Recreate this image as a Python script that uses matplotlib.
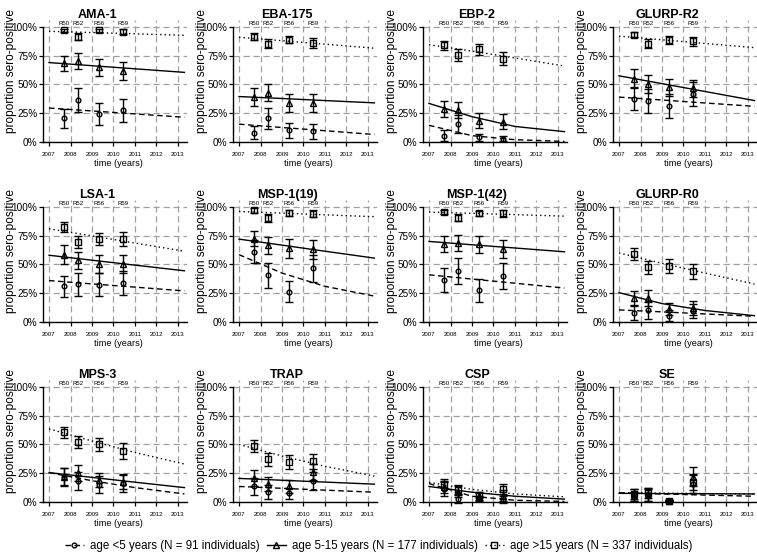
import numpy as np
import matplotlib
matplotlib.use("Agg")
import matplotlib.pyplot as plt
from matplotlib.lines import Line2D

plt.rcParams['font.family'] = ['Liberation Sans', 'DejaVu Sans']

antigens = ['AMA-1', 'EBA-175', 'EBP-2', 'GLURP-R2',
            'LSA-1', 'MSP-1(19)', 'MSP-1(42)', 'GLURP-R0',
            'MPS-3', 'TRAP', 'CSP', 'SE']
survey_times = [2007.68, 2008.33, 2009.33, 2010.44]
survey_names = ['R50', 'R52', 'R56', 'R59']
years = [2007, 2008, 2009, 2010, 2011, 2012, 2013]

# observed sero-prevalence (%) and half width of the error bar, per antigen
young_prop = [[20.5, 36.5, 24.5, 27.5], [8, 20.5, 10, 9.5], [5.5, 15.5, 4, 3], [37.5, 35.5, 31.5, 41.5],
              [31, 33, 32.5, 34], [61, 40.5, 26.5, 46.5], [36.5, 44.5, 27.5, 40], [8, 10, 5.5, 9.5],
              [21.5, 18, 15, 16.5], [13.5, 9, 7.5, 18], [11.5, 3, 3, 2], [6, 6.5, 1, 15.5]]
young_err = [[8, 10, 9.5, 10], [5.5, 9, 6.5, 6.5], [5, 8, 3, 2.5], [10, 10.5, 10.5, 10.5],
             [9, 10, 10, 10.5], [10, 11, 9, 12], [10, 11.5, 10, 11], [6, 7, 4.5, 6],
             [8, 8, 7.5, 8], [7, 6, 5, 8], [6, 4, 2.5, 3], [5, 5.5, 0.5, 8]]
mid_prop = [[68.5, 70, 65, 61.5], [39, 43, 34, 34], [28.5, 27.5, 18.5, 17.5], [55, 50.5, 47.5, 46.5],
            [58.5, 53.5, 50.5, 50.5], [72.5, 66.5, 64, 63], [68, 68.5, 67.5, 63.5], [21, 20.5, 11.5, 12.5],
            [22, 25.5, 19, 17.5], [20.5, 15.5, 13.5, 26], [13, 9, 5, 5.5], [5, 6, 1, 22]]
mid_err = [[6.5, 7, 7.5, 8], [7.5, 7, 8, 8], [7, 7, 6.5, 6.5], [8, 7.5, 7.5, 7],
           [8, 7.5, 8, 8], [6.5, 7, 8, 8.5], [7, 7, 7.5, 8], [6, 7, 5, 6],
           [7.5, 7, 6, 6], [7, 6, 6, 7], [5, 5, 3, 5], [4, 5, 0.5, 8]]
old_prop = [[97, 91.5, 97, 96], [91.3, 85.5, 89, 86], [84, 75.5, 80.5, 72.5], [93.3, 85.5, 89, 87.5],
            [82.5, 69.5, 72, 72], [97, 90.5, 94.5, 94], [95.5, 90.5, 94.5, 94.5], [59, 47.5, 48.5, 44],
            [60.5, 52, 50, 44.5], [48.5, 37, 35, 35.5], [16, 10.5, 6, 11.5], [7, 8, 1, 17]]
old_err = [[1.5, 3, 1.5, 2], [3, 4, 3, 4], [4, 5, 4.5, 6], [2.5, 4, 3.5, 4],
           [4, 5, 5, 6], [2, 3.5, 2.5, 3], [2, 3, 2, 3], [5, 5.5, 6, 6.5],
           [5, 5.5, 6, 7], [5, 5.5, 6, 6.5], [4, 4, 2.5, 4.5], [4, 4.5, 0.5, 7]]

# fitted curves (%) read at these times
fit_x = [2007, 2009, 2011, 2013.3]
young_fit = [[29.5, 27.0, 24.4, 21.5], [15.5, 12.6, 9.8, 6.5], [14.5, 5.5, 2, 0.5], [39, 36.5, 33.9, 31],
             [36, 33.1, 30.3, 27], [58.5, 42.5, 31, 22.5], [41, 37.3, 33.7, 29.5], [10.5, 8.8, 7, 5],
             [25.5, 18.5, 12.5, 7], [13.5, 11.9, 10.3, 8.5], [16, 5, 1.5, 0.5], [8, 7, 6, 5]]
mid_fit = [[69, 66.3, 63.6, 60.5], [39.5, 37.8, 36, 34], [33.5, 22, 13.5, 9], [57.5, 50.7, 43.9, 36],
           [58, 53.7, 49.4, 44.5], [72, 66.8, 61.5, 55.5], [70, 67.1, 64.3, 61], [25.5, 16, 10, 5.5],
           [25.5, 21.4, 17.2, 12.5], [20.5, 18.9, 17.3, 15.5], [13.5, 8.5, 5, 2.5], [7.5, 7.3, 7.2, 7]]
old_fit = [[96.2, 95.1, 94.0, 92.7], [91, 88, 85, 81.5], [84.5, 79, 73, 66], [92, 88.8, 85.6, 82],
           [81, 74.8, 68.6, 61.5], [96, 94.6, 93.1, 91.5], [95.5, 94.4, 93.3, 92], [60, 51, 42.5, 33],
           [63.5, 53, 43, 33], [50, 40, 31, 22.5], [17, 11, 7, 4.5], [8, 7.7, 7.3, 7]]

groups = [
    ('age <5 years (N = 91 individuals)', young_prop, young_err, young_fit, 'o', 3.4, (0, (4, 2.5))),
    ('age 5-15 years (N = 177 individuals)', mid_prop, mid_err, mid_fit, '^', 4.4, '-'),
    ('age >15 years (N = 337 individuals)', old_prop, old_err, old_fit, 's', 3.8, (0, (1, 2.2))),
]

W, H = 757, 556
fig = plt.figure(figsize=(W / 100, H / 100), dpi=100)

for i, name in enumerate(antigens):
    r, c = divmod(i, 4)
    x0 = c * 190
    y0 = r * 180
    ax = fig.add_axes([(x0 + 43) / W, 1 - (y0 + 142) / H, 144 / W, 122 / H])
    ax.set_xlim(2006.72, 2013.42)
    ax.set_ylim(0, 1.06)
    ax.set_axisbelow(True)
    ax.grid(True, color='#a0a0a0', linestyle=(0, (5, 3)), linewidth=0.9)
    for s in ['top', 'right']:
        ax.spines[s].set_visible(False)
    ax.spines['left'].set_bounds(0, 1)
    ax.spines['left'].set_linewidth(1.0)
    ax.spines['bottom'].set_linewidth(1.0)
    ax.set_xticks(years)
    ax.set_xticklabels([str(y) for y in years])
    ax.set_yticks([0, 0.25, 0.5, 0.75, 1.0])
    ax.set_yticklabels(['0%', '25%', '50%', '75%', '100%'])
    ax.tick_params(axis='x', length=3, width=0.9, labelsize=4.4, pad=4)
    ax.tick_params(axis='y', length=3, width=0.9, labelsize=7.2, pad=1)

    for lab, prop, err, fit, mk, ms, ls in groups:
        ax.plot(fit_x, np.array(fit[i]) / 100, color='black', linestyle=ls, linewidth=1.0)
        ax.errorbar(survey_times, np.array(prop[i]) / 100, yerr=np.array(err[i]) / 100,
                    fmt=mk, ms=ms, mfc='none', mec='black', mew=1.0, ecolor='black',
                    elinewidth=1.0, capsize=3.0, capthick=1.0, clip_on=False)

    for t, sn in zip(survey_times, survey_names):
        ax.text(t, 1.033, sn, ha='center', va='center', fontsize=4.4)

    fig.text((x0 + 97) / W, 1 - (y0 + 15) / H, name, ha='center', va='center',
             fontsize=9, fontweight='bold')
    fig.text((x0 + 11.5) / W, 1 - (y0 + 71) / H, 'proportion sero-positive', ha='center',
             va='center', rotation=90, fontsize=8.6)
    fig.text((x0 + 118) / W, 1 - (y0 + 164) / H, 'time (years)', ha='center', va='center',
             fontsize=6.6)

handles = []
for lab, prop, err, fit, mk, ms, ls in groups:
    handles.append(Line2D([], [], color='black', linestyle=ls, linewidth=1.0, marker=mk,
                          ms=ms, mfc='none', mec='black', mew=1.0, label=lab))
fig.legend(handles=handles, loc='center', bbox_to_anchor=(0.5, 1 - 546 / H), ncol=3,
           frameon=False, fontsize=8.3, handlelength=1.7, columnspacing=0.6, handletextpad=0.5)

fig.savefig('out.png', dpi=100)
